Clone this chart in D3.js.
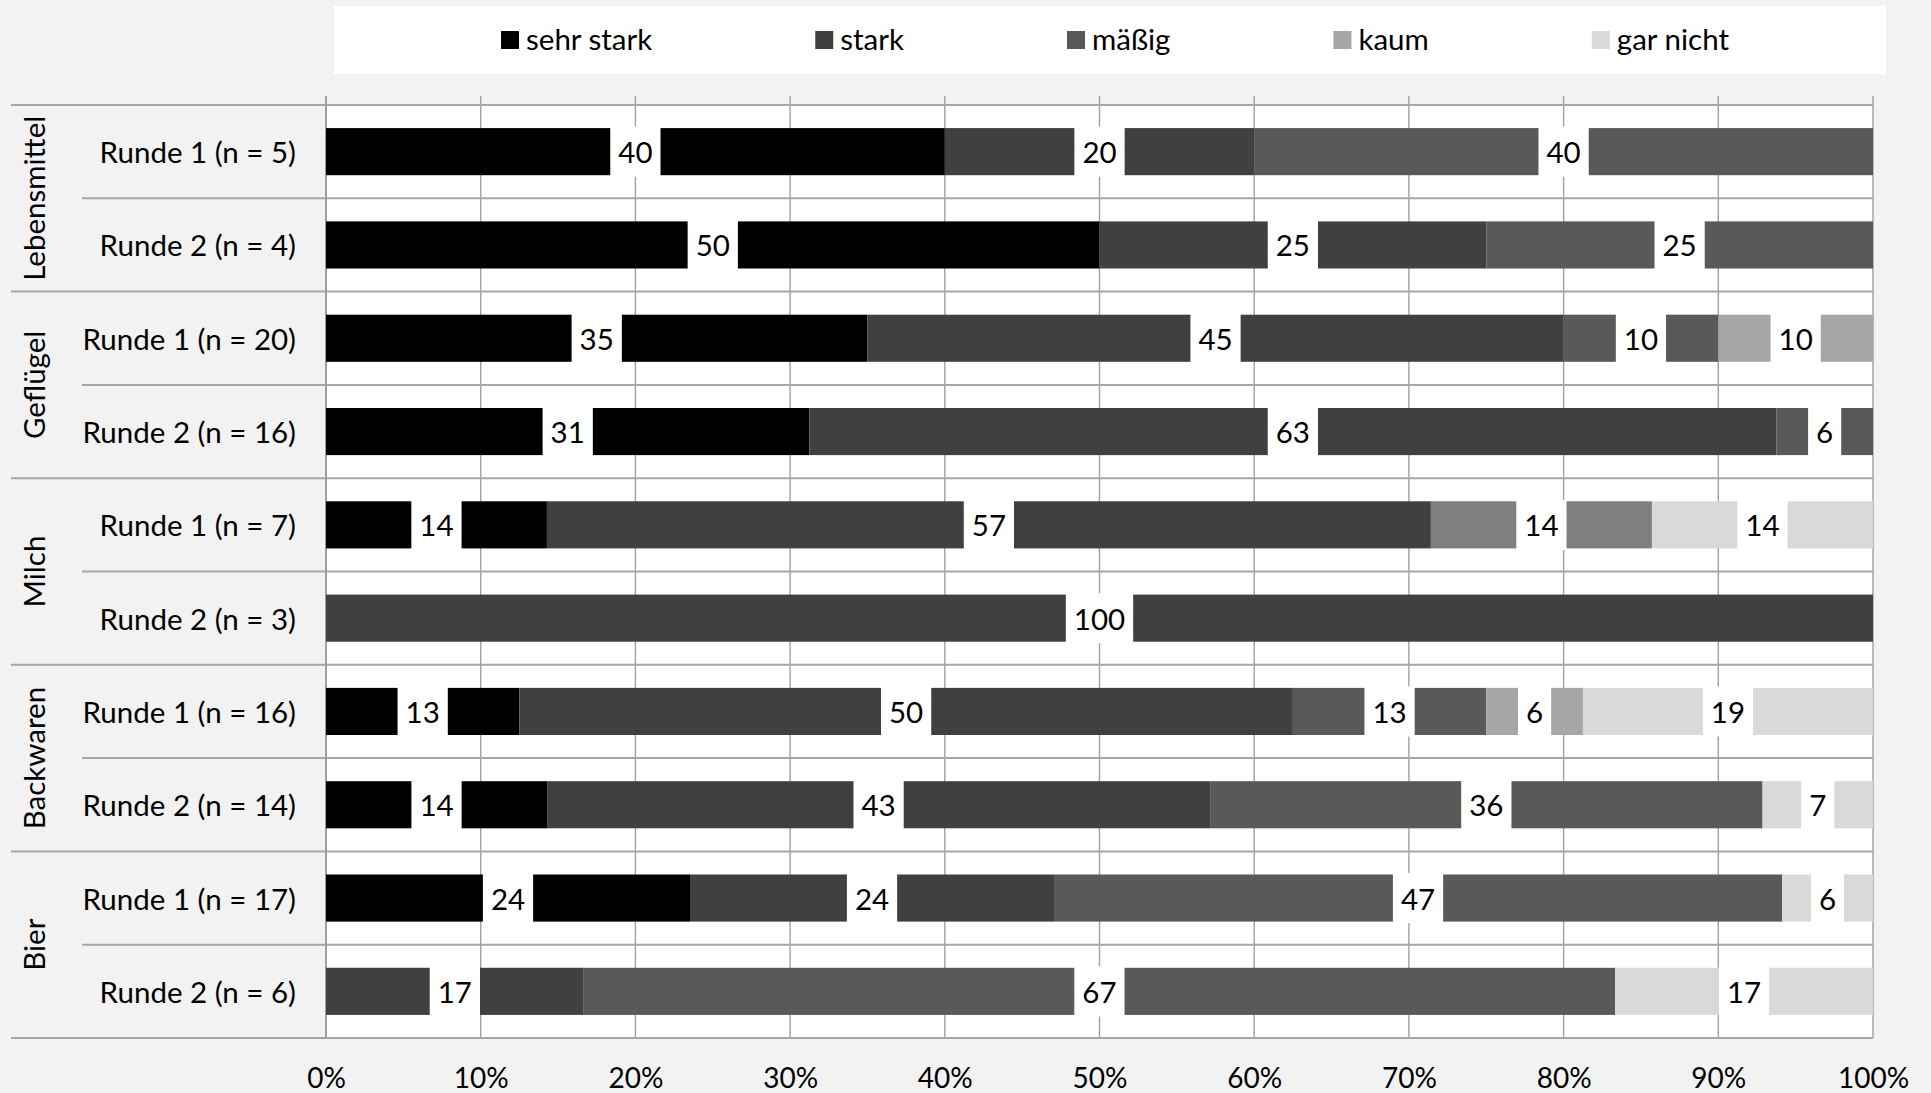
<!DOCTYPE html>
<html>
<head>
<meta charset="utf-8">
<script src="https://cdn.jsdelivr.net/npm/d3@7"></script>
<style>
  html, body { margin: 0; padding: 0; background: #f2f2f2; }
  svg { display: block; }
  text { font-family: Lato, "Open Sans", sans-serif; fill: #000; }
</style>
</head>
<body>
<svg id="chart" width="1931" height="1093"></svg>
<script>
// ---------------- data ----------------
const categories = ["Lebensmittel", "Geflügel", "Milch", "Backwaren", "Bier"];
const rowLabels = [
  ["Runde 1 (n = 5)", "Runde 2 (n = 4)"],
  ["Runde 1 (n = 20)", "Runde 2 (n = 16)"],
  ["Runde 1 (n = 7)", "Runde 2 (n = 3)"],
  ["Runde 1 (n = 16)", "Runde 2 (n = 14)"],
  ["Runde 1 (n = 17)", "Runde 2 (n = 6)"]
];
const seriesNames = ["sehr stark", "stark", "mäßig", "kaum", "gar nicht"];
const sehrStark = [40, 50, 35, 31.25, 14.28, 0, 12.5, 14.29, 23.53, 0];
const stark     = [20, 25, 45, 62.5, 57.14, 100, 50, 42.86, 23.53, 16.66];
const maessig   = [40, 25, 10, 6.25, 0, 0, 12.5, 35.71, 47.06, 66.67];
const kaum      = [0, 0, 10, 0, 14.29, 0, 6.25, 0, 0, 0];
const garNicht  = [0, 0, 0, 0, 14.29, 0, 18.75, 7.14, 5.88, 16.67];
const tickValues = [0, 10, 20, 30, 40, 50, 60, 70, 80, 90, 100];

// ---------------- styles ----------------
const seriesColors = ["#000000", "#404040", "#595959", "#a6a6a6", "#d9d9d9"];
const cellColorOverride = { "4|kaum": "#7f7f7f" };
const FONT = 29.5;

// ---------------- build table ----------------
const seriesValues = [sehrStark, stark, maessig, kaum, garNicht];
const rows = [];
categories.forEach((c, ci) => {
  rowLabels[ci].forEach((lab, ri) => {
    const i = rows.length;
    const r = { id: i, category: c, label: lab };
    seriesNames.forEach((s, si) => r[s] = seriesValues[si][i]);
    rows.push(r);
  });
});

const svg = d3.select("#chart");
const plotLeft = 326, plotRight = 1873, plotTop = 105, plotBottom = 1038;

const x = d3.scaleLinear().domain([0, 100]).range([plotLeft, plotRight]);
const y = d3.scaleBand().domain(rows.map(d => d.id)).range([plotTop, plotBottom]).padding(0);
const color = d3.scaleOrdinal().domain(seriesNames).range(seriesColors);

// legend box
svg.append("rect").attr("x", 334).attr("y", 6).attr("width", 1552).attr("height", 68).attr("fill", "#fff");

// plot background
svg.append("rect").attr("x", plotLeft).attr("y", plotTop)
  .attr("width", plotRight - plotLeft).attr("height", plotBottom - plotTop).attr("fill", "#fff");

// vertical gridlines
svg.append("g").selectAll("line").data(tickValues).join("line")
  .attr("x1", d => x(d)).attr("x2", d => x(d))
  .attr("y1", 96).attr("y2", plotBottom)
  .attr("stroke", "#a0a0a0").attr("stroke-width", 1.4);

// horizontal row boundaries
const bounds = rows.map(d => y(d.id)).concat([plotBottom]);
svg.append("g").selectAll("line").data(bounds).join("line")
  .attr("x1", (d, i) => (i % 2 === 0 ? 11 : 82)).attr("x2", plotRight)
  .attr("y1", d => d).attr("y2", d => d)
  .attr("stroke", "#a6a6a6").attr("stroke-width", 2);

// left axis line
svg.append("line").attr("x1", plotLeft).attr("x2", plotLeft).attr("y1", 96).attr("y2", plotBottom)
  .attr("stroke", "#a0a0a0").attr("stroke-width", 2);

// stacked bars
const stacked = d3.stack().keys(seriesNames)(rows);
const barH = y.bandwidth() * 0.505;
const barOff = (y.bandwidth() - barH) / 2;

const layer = svg.append("g").selectAll("g").data(stacked).join("g");
layer.selectAll("rect").data(s => s.map(d => ({ d, key: s.key }))).join("rect")
  .filter(o => o.d[1] - o.d[0] > 0)
  .attr("x", o => x(o.d[0]))
  .attr("width", o => x(o.d[1]) - x(o.d[0]))
  .attr("y", o => y(o.d.data.id) + barOff)
  .attr("height", barH)
  .attr("fill", o => cellColorOverride[o.d.data.id + "|" + o.key] || color(o.key));

// value labels with white boxes
const fmt = d3.format(".0f");
const labelsG = svg.append("g");
stacked.forEach(s => {
  s.forEach(d => {
    const v = d[1] - d[0];
    if (v <= 0) return;
    const cx = x((d[0] + d[1]) / 2);
    const cy = y(d.data.id) + y.bandwidth() / 2;
    const g = labelsG.append("g");
    const box = g.append("rect").attr("fill", "#fff");
    const t = g.append("text").attr("x", cx).attr("y", cy)
      .attr("text-anchor", "middle").attr("dominant-baseline", "central")
      .style("font-size", FONT + "px")
      .text(fmt(d.data[s.key]));
    const w = t.node().getComputedTextLength() + 16;
    box.attr("x", cx - w / 2).attr("width", w)
      .attr("y", y(d.data.id) + barOff - 1.5).attr("height", barH + 3);
  });
});

// row labels
svg.append("g").selectAll("text").data(rows).join("text")
  .attr("x", 296).attr("y", d => y(d.id) + y.bandwidth() / 2)
  .attr("text-anchor", "end").attr("dominant-baseline", "central")
  .style("font-size", FONT + "px")
  .text(d => d.label);

// category labels (rotated)
svg.append("g").selectAll("text").data(categories).join("text")
  .attr("transform", (c, ci) => {
    const yc = (y(ci * 2) + y(ci * 2 + 1) + y.bandwidth()) / 2;
    return `translate(33,${yc}) rotate(-90)`;
  })
  .attr("text-anchor", "middle").attr("dominant-baseline", "central")
  .style("font-size", FONT + "px")
  .text(c => c);

// x axis tick labels
const xAxis = d3.axisBottom(x).tickValues(tickValues).tickFormat(d => d + "%").tickSize(0).tickPadding(0);
const ax = svg.append("g").attr("transform", `translate(0,1088)`).call(xAxis);
ax.select(".domain").remove();
ax.selectAll("text").attr("dy", null).attr("y", 0)
  .style("font-size", "28px").style("font-family", "Lato, 'Open Sans', sans-serif").attr("fill", "#000");

// legend
const legend = svg.append("g");
let lx = 0;
seriesNames.forEach((s, i) => {
  const g = legend.append("g").attr("transform", `translate(${lx},0)`);
  g.append("rect").attr("x", 0).attr("y", 31).attr("width", 18).attr("height", 18).attr("fill", color(s));
  const t = g.append("text").attr("x", 25).attr("y", 38).attr("dominant-baseline", "central")
    .style("font-size", FONT + "px").text(s);
  const w = 25 + t.node().getComputedTextLength();
  lx += w + 163;
});
const totalW = lx - 163;
legend.attr("transform", `translate(${1115 - totalW / 2},0)`);
</script>
</body>
</html>
